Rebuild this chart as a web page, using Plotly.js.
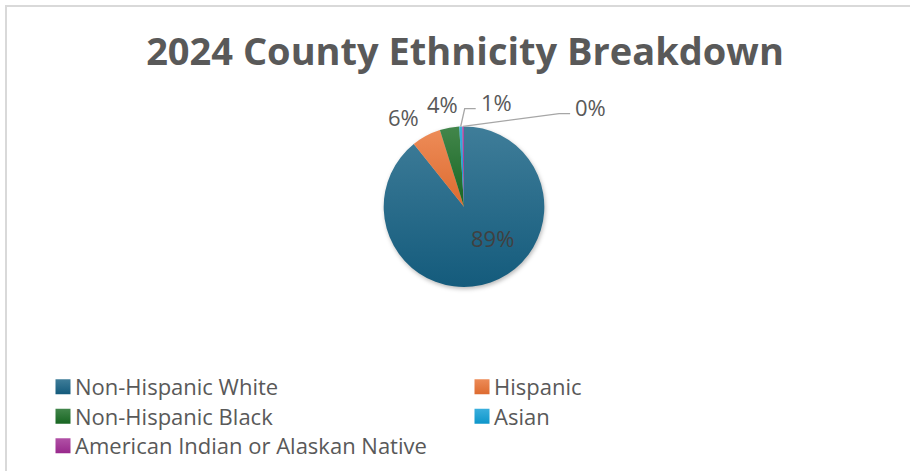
<!DOCTYPE html>
<html>
<head>
<meta charset="utf-8">
<script src="https://cdn.plot.ly/plotly-3.0.1.min.js"></script>
<style>
  html, body { margin: 0; padding: 0; background: #ffffff; }
  #frame {
    position: absolute; left: 5px; top: 5px; width: 905px; height: 466px;
    border-left: 2px solid #d9d9d9; border-top: 2px solid #d9d9d9;
  }
  #chart { position: absolute; left: 0; top: 0; width: 910px; height: 471px; }
</style>
</head>
<body>
<div id="frame"></div>
<div id="chart"></div>
<script>
// Population share by ethnicity, 2024 (percent of county residents)
const categories = [
  'Non-Hispanic White',
  'Hispanic',
  'Non-Hispanic Black',
  'Asian',
  'American Indian or Alaskan Native'
];
const shares = [89.25, 5.9, 3.9, 0.6, 0.35];
const sliceColors = ['#156082', '#E97132', '#196B24', '#0F9ED5', '#A02B93'];
const chartTitle = '2024 County Ethnicity Breakdown';

// ---- page geometry (pixels) ----
const W = 910, H = 471;
const PIE_CX = 464, PIE_CY = 208.5, PIE_R = 81;
const TEXT_GRAY = '#595959';
const FONT = '"Open Sans", "Liberation Sans", sans-serif';
const LEGEND_ROW_STEP = 29.5;

// how each percentage label sits relative to its slice:
// anchor = point on the slice's mid-angle at (radius * r), then shifted by dx/dy px
const labelPlacement = [
  { kind: 'plain',  r: 0.5, dx: 15,  dy: -7,  color: '#404040' },
  { kind: 'plain',  r: 1.0, dx: -22, dy: -19, color: TEXT_GRAY },
  { kind: 'plain',  r: 1.0, dx: -7,  dy: -24, color: TEXT_GRAY },
  { kind: 'leader', r: 1.0, dx: 18,  dy: -25, color: TEXT_GRAY },
  { kind: 'leader', r: 1.0, dx: 110, dy: -20, color: TEXT_GRAY }
];

const px2x = p => p / W;
const px2y = p => 1 - p / H;

const total = shares.reduce((a, b) => a + b, 0);
const annotations = [];
const shapes = [];
let before = 0;
shares.forEach((v, i) => {
  const mid = 2 * Math.PI * (before + v / 2) / total;   // clockwise from 12 o'clock
  before += v;
  const pl = labelPlacement[i];
  const ex = PIE_CX + Math.sin(mid) * PIE_R * pl.r;
  const ey = PIE_CY - Math.cos(mid) * PIE_R * pl.r;
  const lx = ex + pl.dx, ly = ey + pl.dy;
  const text = Math.round(v / total * 100) + '%';
  annotations.push({
    x: px2x(lx), y: px2y(ly), xref: 'paper', yref: 'paper',
    xanchor: pl.kind === 'leader' ? 'left' : 'center', yanchor: 'middle',
    text: text, showarrow: false,
    font: { family: FONT, size: 22, color: pl.color }
  });
  if (pl.kind === 'leader') {
    const ly2 = ly + 7;
    shapes.push({
      type: 'path', xref: 'paper', yref: 'paper', layer: 'above',
      path: 'M' + px2x(ex) + ',' + px2y(ey) +
            ' L' + px2x(lx - 14) + ',' + px2y(ly2) +
            ' L' + px2x(lx - 3) + ',' + px2y(ly2),
      line: { color: '#a6a6a6', width: 1.3 }
    });
  }
});

const trace = {
  type: 'pie',
  labels: categories,
  values: shares,
  sort: false,
  direction: 'clockwise',
  rotation: 0,
  textinfo: 'none',
  hoverinfo: 'skip',
  marker: { colors: sliceColors, line: { width: 0 } },
  domain: {
    x: [px2x(PIE_CX - PIE_R), px2x(PIE_CX + PIE_R)],
    y: [px2y(PIE_CY + PIE_R), px2y(PIE_CY - PIE_R)]
  }
};

const layout = {
  width: W, height: H,
  margin: { l: 0, r: 0, t: 0, b: 0 },
  paper_bgcolor: 'rgba(0,0,0,0)',
  plot_bgcolor: 'rgba(0,0,0,0)',
  title: {
    text: chartTitle,
    x: 465 / W, xanchor: 'center', xref: 'paper',
    y: px2y(52), yanchor: 'middle', yref: 'paper',
    font: { family: FONT, size: 38, weight: 700, color: TEXT_GRAY }
  },
  showlegend: true,
  legend: {
    orientation: 'h',
    x: px2x(35), xanchor: 'left',
    y: px2y(369), yanchor: 'top',
    entrywidth: 374, entrywidthmode: 'pixels',
    traceorder: 'normal',
    font: { family: FONT, size: 22, color: TEXT_GRAY },
    bgcolor: 'rgba(0,0,0,0)'
  },
  annotations: annotations,
  shapes: shapes
};

function shade(hex, amt) {
  // amt > 0 mixes toward white, amt < 0 toward black
  const n = parseInt(hex.slice(1), 16);
  const ch = [(n >> 16) & 255, (n >> 8) & 255, n & 255].map(c =>
    Math.round(amt >= 0 ? c + (255 - c) * amt : c * (1 + amt)));
  return 'rgb(' + ch.join(',') + ')';
}

Plotly.newPlot('chart', [trace], layout, { staticPlot: true, displayModeBar: false })
  .then(gd => {
    // soft vertical gradient on each slice and legend swatch, plus a light drop shadow
    const svg = gd.querySelector('.main-svg');
    const NS = 'http://www.w3.org/2000/svg';
    let defs = svg.querySelector('defs');
    if (!defs) { defs = document.createElementNS(NS, 'defs'); svg.prepend(defs); }
    sliceColors.forEach((c, i) => {
      const g = document.createElementNS(NS, 'linearGradient');
      g.setAttribute('id', 'sliceGrad' + i);
      g.setAttribute('x1', '0'); g.setAttribute('y1', '0');
      g.setAttribute('x2', '0'); g.setAttribute('y2', '1');
      [[0, shade(c, 0.18)], [1, shade(c, -0.05)]].forEach(([o, col]) => {
        const s = document.createElementNS(NS, 'stop');
        s.setAttribute('offset', o); s.setAttribute('stop-color', col);
        g.appendChild(s);
      });
      defs.appendChild(g);
    });
    gd.querySelectorAll('.pielayer path.surface').forEach((p, i) => {
      p.style.fill = 'url(#sliceGrad' + i + ')';
    });
    gd.querySelectorAll('.pielayer .trace').forEach(t => {
      t.style.filter = 'drop-shadow(1px 2px 2px rgba(0,0,0,0.28))';
    });

    // legend: gradient swatches, and tighter row spacing
    const items = Array.from(gd.querySelectorAll('.legend .traces'));
    const pos = items.map(t => {
      const m = /translate\(\s*([-\d.]+)[ ,]+([-\d.]+)\s*\)/.exec(t.getAttribute('transform') || '');
      return m ? [parseFloat(m[1]), parseFloat(m[2])] : null;
    });
    const rowsY = Array.from(new Set(pos.filter(Boolean).map(p => p[1]))).sort((a, b) => a - b);
    items.forEach((t, i) => {
      const p = t.querySelector('path.legendpie');
      if (p) {
        p.style.fill = 'url(#sliceGrad' + i + ')';
        p.setAttribute('transform', 'translate(28,0) scale(1.25)');
      }
      if (pos[i]) {
        const row = rowsY.indexOf(pos[i][1]);
        const y = rowsY[0] + row * LEGEND_ROW_STEP;
        t.setAttribute('transform', 'translate(' + pos[i][0] + ',' + y + ')');
      }
    });
  });
</script>
</body>
</html>
